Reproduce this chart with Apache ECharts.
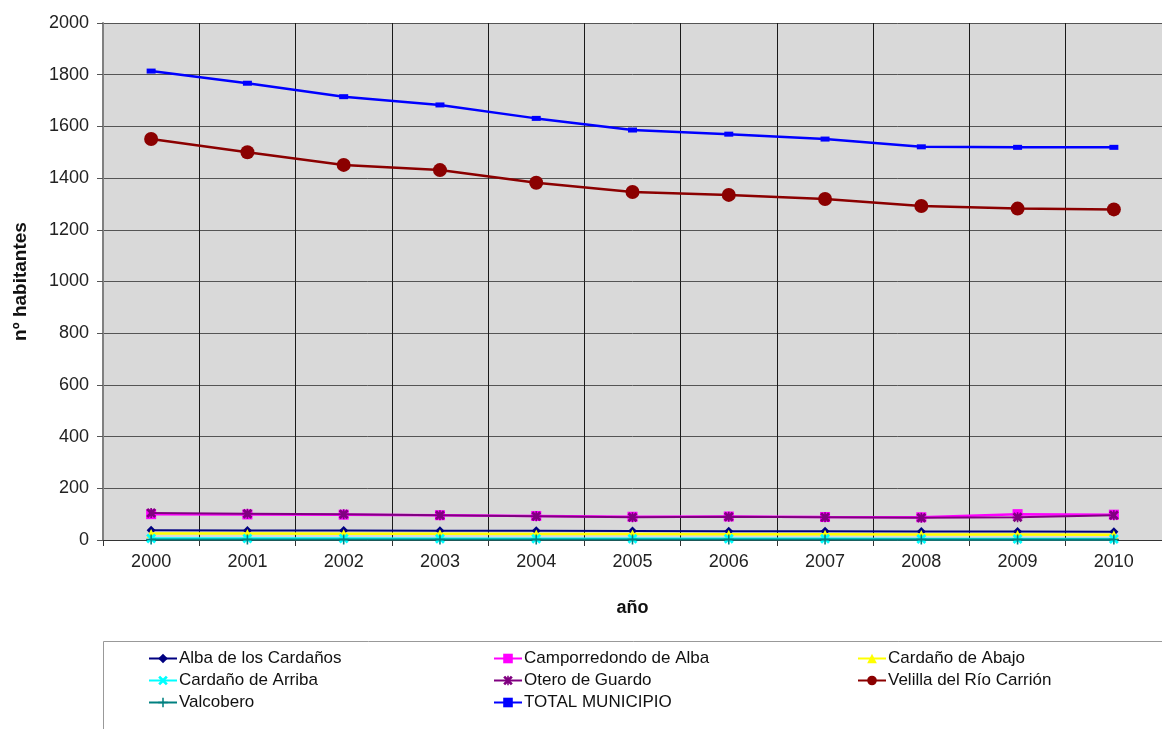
<!DOCTYPE html>
<html><head><meta charset="utf-8">
<script src="https://cdn.jsdelivr.net/npm/echarts@6/dist/echarts.min.js"></script>
<style>html,body{margin:0;padding:0;background:#fff}#c{width:1162px;height:729px}</style>
</head><body><div id="c"></div>
<script>
const years = ['2000','2001','2002','2003','2004','2005','2006','2007','2008','2009','2010'];
const yTicks = {min: 0, max: 2000, interval: 200};
const seriesNames = ['Alba de los Cardaños','Camporredondo de Alba','Cardaño de Abajo','Cardaño de Arriba','Otero de Guardo','Velilla del Río Carrión','Valcobero','TOTAL MUNICIPIO'];
const alba = [38,37,37,36,36,35,34,34,33,33,32];
const camporredondo = [100,99,98,96,93,90,91,89,88,100,98];
const cardanoAbajo = [25,25,24,24,23,23,22,22,21,21,20];
const cardanoArriba = [6,6,6,5,5,5,5,5,4,4,4];
const otero = [104,102,100,96,92,88,90,88,86,88,96];
const velilla = [1551,1500,1451,1431,1382,1346,1335,1319,1292,1282,1279];
const valcobero = [2,2,2,2,2,2,2,2,2,2,2];
const total = [1814,1767,1715,1683,1631,1586,1570,1551,1521,1519,1519];

const FONT = '"Liberation Sans", Arial, sans-serif';
const X_PATH = 'path://M2,0 L5,3 L8,0 L10,2 L7,5 L10,8 L8,10 L5,7 L2,10 L0,8 L3,5 L0,2 Z';
const STAR_PATH = 'path://M2,0 L5,3 L8,0 L10,2 L7,5 L10,8 L8,10 L5,7 L2,10 L0,8 L3,5 L0,2 Z M4.2,0 H5.8 V10 H4.2 Z';
const PLUS_PATH = 'path://M4.2,0 H5.8 V4.2 H10 V5.8 H5.8 V10 H4.2 V5.8 H0 V4.2 H4.2 Z';

const styles = [
  {data: alba, color: '#000080', symbol: 'diamond', size: 9, width: 2},
  {data: camporredondo, color: '#FF00FF', symbol: 'rect', size: 10, width: 2.5},
  {data: cardanoAbajo, color: '#FFFF00', symbol: 'triangle', size: 9, width: 2.5},
  {data: cardanoArriba, color: '#00FFFF', symbol: X_PATH, size: 10, width: 2.5},
  {data: otero, color: '#800080', symbol: STAR_PATH, size: 10, width: 2},
  {data: velilla, color: '#8B0000', symbol: 'circle', size: 14, width: 2.5},
  {data: valcobero, color: '#008080', symbol: PLUS_PATH, size: 10, width: 2},
  {data: total, color: '#0000FF', symbol: 'rect', size: [9,5], width: 2.5}
];

const series = styles.map((s, i) => ({
  name: seriesNames[i], type: 'line', data: s.data,
  symbol: s.symbol, symbolSize: s.size, showSymbol: true,
  lineStyle: {color: s.color, width: s.width},
  itemStyle: {color: s.color, borderWidth: 0},
  emphasis: {disabled: true}, z: 2 + i
}));

const cols = [148, 493, 857];
const rows = [650, 672, 694];
const legendPos = [[0,0],[1,0],[2,0],[0,1],[1,1],[2,1],[0,2],[1,2]];
const legends = seriesNames.map((n, i) => ({
  data: [n], left: cols[legendPos[i][0]], top: rows[legendPos[i][1]], padding: 0,
  itemWidth: 28, itemHeight: 12, itemGap: 0, selectedMode: false,
  textStyle: {fontFamily: FONT, fontSize: 17, color: '#111', padding: [0,0,0,-3]}
}));

const chart = echarts.init(document.getElementById('c'), null, {renderer: 'canvas'});
chart.setOption({
  animation: false,
  backgroundColor: '#fff',
  graphic: [{type: 'rect', shape: {x: 103.5, y: 641.5, width: 1100, height: 120}, style: {fill: '#fff', stroke: '#999', lineWidth: 1}, z: -1}],
  grid: {left: 103, top: 23, width: 1067, height: 517, show: true, backgroundColor: '#D9D9D9', borderWidth: 0},
  legend: legends,
  xAxis: {
    type: 'category', data: years, boundaryGap: true,
    name: 'año', nameLocation: 'middle', nameGap: 59,
    nameTextStyle: {fontFamily: FONT, fontSize: 18, fontWeight: 'bold', color: '#111'},
    axisLine: {lineStyle: {color: '#333', width: 1}},
    axisTick: {show: true, length: 6, lineStyle: {color: '#333'}},
    axisLabel: {fontFamily: FONT, fontSize: 18, color: '#222', margin: 13},
    splitLine: {show: true, lineStyle: {color: '#1a1a1a', width: 1}}
  },
  yAxis: {
    type: 'value', min: yTicks.min, max: yTicks.max, interval: yTicks.interval,
    name: 'nº habitantes', nameLocation: 'middle', nameGap: 73, nameRotate: 90,
    nameTextStyle: {fontFamily: FONT, fontSize: 19, fontWeight: 'bold', color: '#111'},
    axisLine: {show: true, lineStyle: {color: '#808080', width: 2}},
    axisTick: {show: true, length: 6, lineStyle: {color: '#555'}},
    axisLabel: {fontFamily: FONT, fontSize: 18, color: '#222', margin: 14, formatter: v => String(v)},
    splitLine: {show: true, lineStyle: {color: '#555', width: 1}}
  },
  series: series
});
</script>
</body></html>
